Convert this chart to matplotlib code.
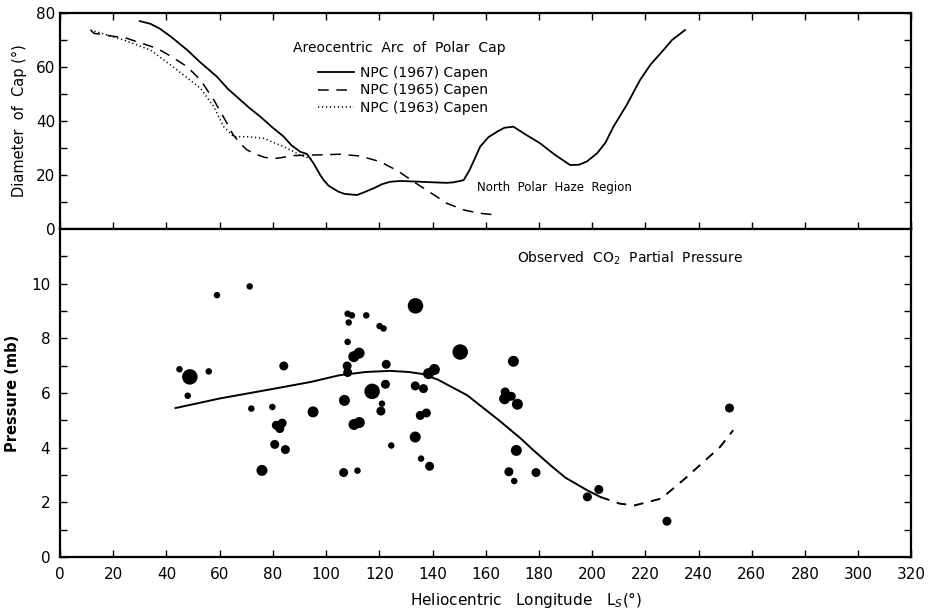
import numpy as np
import matplotlib.pyplot as plt

# --- polar cap diameter curves (Capen) ---
ls_1967 = [30, 34, 37.7, 42, 47.8, 53, 59, 63, 67.8, 71, 75.3, 80, 84.1, 87, 90.3, 92.8,
           95.3, 97.8, 99.1, 101, 104.7, 107, 111.6, 114, 117.9, 121, 124.1, 128, 135.4,
           140, 145.4, 148, 151.7, 154, 157.9, 161, 164.2, 167, 170.4, 175, 180.5, 186,
           191.7, 195, 198, 201.8, 205, 208, 213, 218, 222, 226.8, 230, 234.9]
cap_1967 = [77, 76, 74.1, 71, 66.3, 61.5, 56.4, 52, 47.8, 45, 41.6, 37.5, 34.2, 31, 28.6, 27.8,
            24.3, 20, 18.1, 16, 13.8, 13, 12.6, 13.5, 15.1, 16.6, 17.5, 17.8, 17.5,
            17.3, 17.1, 17.3, 18.1, 22, 30.5, 34, 36, 37.5, 37.9, 35, 31.7, 27.5,
            23.7, 23.8, 25, 28, 32, 37.9, 46, 55.2, 61, 66.3, 70, 73.7]

ls_1965 = [11.5, 12.7, 25.2, 36.5, 42, 47.8, 52.8, 57.8, 62.8, 65, 67.8, 70, 72.8, 77,
           81.6, 87.8, 95.3, 105.4, 113, 120.4, 127, 132.9, 140, 145.4, 152, 158, 164.2]
cap_1965 = [73.7, 72.5, 70.6, 66.9, 63.8, 60.1, 55.2, 47.8, 39.1, 35, 31.7, 29.5, 28, 26.5,
            26.2, 27.2, 27.4, 27.7, 27, 24.9, 21.5, 17.5, 13, 9.5, 7, 5.8, 5.2]

ls_1963 = [11.5, 24, 34, 44, 52.8, 57.8, 61.5, 65.3, 70.3, 76.5, 84.1, 90.3, 95.3]
cap_1963 = [73.7, 70, 66.3, 58.9, 52.1, 45.3, 37.9, 34.2, 34.2, 33.6, 30.5, 27.4, 25.6]

# --- observed CO2 partial pressure ---
obs_ls = [59.0, 71.3, 44.9, 48.8, 55.9, 48.0, 84.1, 71.9, 79.8, 95.1, 81.3, 83.5, 82.6,
          80.7, 84.7, 75.9,
          108.1, 109.7, 115.1, 108.5, 120.1, 121.6, 133.6, 108.1, 110.4, 112.4, 107.9,
          108.1, 122.6, 117.3, 122.3, 106.9, 121.0, 120.6, 110.5, 112.5, 124.5, 106.6,
          111.8, 133.5,
          150.4, 170.4, 138.5, 140.7, 133.5, 136.6, 167.3, 167.1, 169.6, 171.9, 135.4,
          137.7, 135.7, 138.9, 171.5, 168.7, 170.7, 178.9,
          198.2, 202.5, 228.1, 251.6]
obs_p = [9.58, 9.90, 6.87, 6.59, 6.79, 5.90, 6.99, 5.43, 5.49, 5.31, 4.82, 4.90, 4.70,
         4.12, 3.93, 3.17,
         8.90, 8.84, 8.84, 8.58, 8.45, 8.36, 9.19, 7.87, 7.33, 7.46, 6.99,
         6.75, 7.05, 6.06, 6.32, 5.73, 5.61, 5.34, 4.85, 4.92, 4.08, 3.09,
         3.16, 4.39,
         7.50, 7.16, 6.71, 6.86, 6.26, 6.16, 6.04, 5.79, 5.88, 5.59, 5.18,
         5.27, 3.60, 3.32, 3.90, 3.12, 2.78, 3.09,
         2.20, 2.47, 1.31, 5.45]
# dot size class: 1 small, 2 medium, 3 large, 4 very large
obs_w = [1, 1, 1, 4, 1, 1, 2, 1, 1, 3, 2, 2, 2,
         2, 2, 3,
         1, 1, 1, 1, 1, 1, 4, 1, 3, 3, 2,
         2, 2, 4, 2, 3, 1, 2, 3, 3, 1, 2,
         1, 3,
         4, 3, 3, 3, 2, 2, 2, 3, 2, 3, 2,
         2, 1, 2, 3, 2, 1, 2,
         2, 2, 2, 2]

fit_ls = [43.4, 60, 80, 94, 105, 115, 124, 131, 136, 142, 153, 165, 173, 178, 185, 190, 198, 203]
fit_p = [5.45, 5.8, 6.15, 6.40, 6.65, 6.77, 6.81, 6.77, 6.70, 6.49, 5.92, 5.0, 4.35, 3.9,
         3.3, 2.9, 2.45, 2.2]
ext_ls = [203, 210.5, 216, 226, 235.6, 248, 253]
ext_p = [2.2, 1.95, 1.89, 2.14, 2.93, 4.02, 4.64]

xticks = list(range(0, 321, 20))

plt.rcParams['font.family'] = 'DejaVu Sans'
fig = plt.figure(figsize=(9.36, 6.14), dpi=100)
ax1 = fig.add_axes([0.0641, 0.627, 0.9097, 0.3518])
ax2 = fig.add_axes([0.0641, 0.0928, 0.9097, 0.5342])

# top panel
ax1.plot(ls_1967, cap_1967, color='black', lw=1.3, label='NPC (1967) Capen')
ax1.plot(ls_1965, cap_1965, color='black', lw=1.1, dashes=(7, 5), label='NPC (1965) Capen')
ax1.plot(ls_1963, cap_1963, color='black', lw=1.1, dashes=(0.8, 1.8), label='NPC (1963) Capen')
ax1.set_xlim(0, 320)
ax1.set_ylim(0, 80)
ax1.set_xticks(xticks)
ax1.set_xticklabels([])
ax1.set_yticks(range(0, 81, 10))
ax1.set_yticklabels([str(v) if v % 20 == 0 else '' for v in range(0, 81, 10)], fontsize=11)
ax1.tick_params(direction='in', top=True, right=True, length=5, width=1)
ax1.set_ylabel('Diameter  of  Cap (°)', fontsize=10.5, labelpad=6)
ax1.text(87.7, 67, 'Areocentric  Arc  of  Polar  Cap', fontsize=10, va='center')
ax1.text(156.8, 15.2, 'North  Polar  Haze  Region', fontsize=8.5, va='center')
ax1.legend(loc='upper left', bbox_to_anchor=(0.303, 0.755), frameon=False, fontsize=10,
           handlelength=2.6, handletextpad=0.4, labelspacing=0.25, borderpad=0,
           borderaxespad=0)

# bottom panel
sizes = {1: 6.5, 2: 9, 3: 11, 4: 15.5}
s = [(sizes[w] * 0.72) ** 2 for w in obs_w]
ax2.scatter(obs_ls, obs_p, s=s, color='black', linewidths=0, zorder=3)
ax2.plot(fit_ls, fit_p, color='black', lw=1.4)
ax2.plot(ext_ls, ext_p, color='black', lw=1.4, dashes=(5, 4))
ax2.set_xlim(0, 320)
ax2.set_ylim(0, 12)
ax2.set_xticks(xticks)
ax2.set_xticklabels([str(v) for v in xticks], fontsize=11)
ax2.set_yticks(range(0, 12))
ax2.set_yticklabels([str(v) if v % 2 == 0 else '' for v in range(0, 12)], fontsize=11)
ax2.tick_params(direction='in', right=True, length=5, width=1, pad=7)
ax2.set_ylabel('Pressure (mb)', fontsize=10.5, fontweight='bold', labelpad=8)
ax2.text(171.8, 10.93, 'Observed  CO$_2$  Partial  Pressure', fontsize=10, va='center')
fig.text(526 / 936, 1 - 600 / 614, 'Heliocentric   Longitude   L$_S$(°)', fontsize=11,
         ha='center', va='center')

for ax in (ax1, ax2):
    for sp in ax.spines.values():
        sp.set_linewidth(1.6)

plt.savefig('out.png', dpi=100)
